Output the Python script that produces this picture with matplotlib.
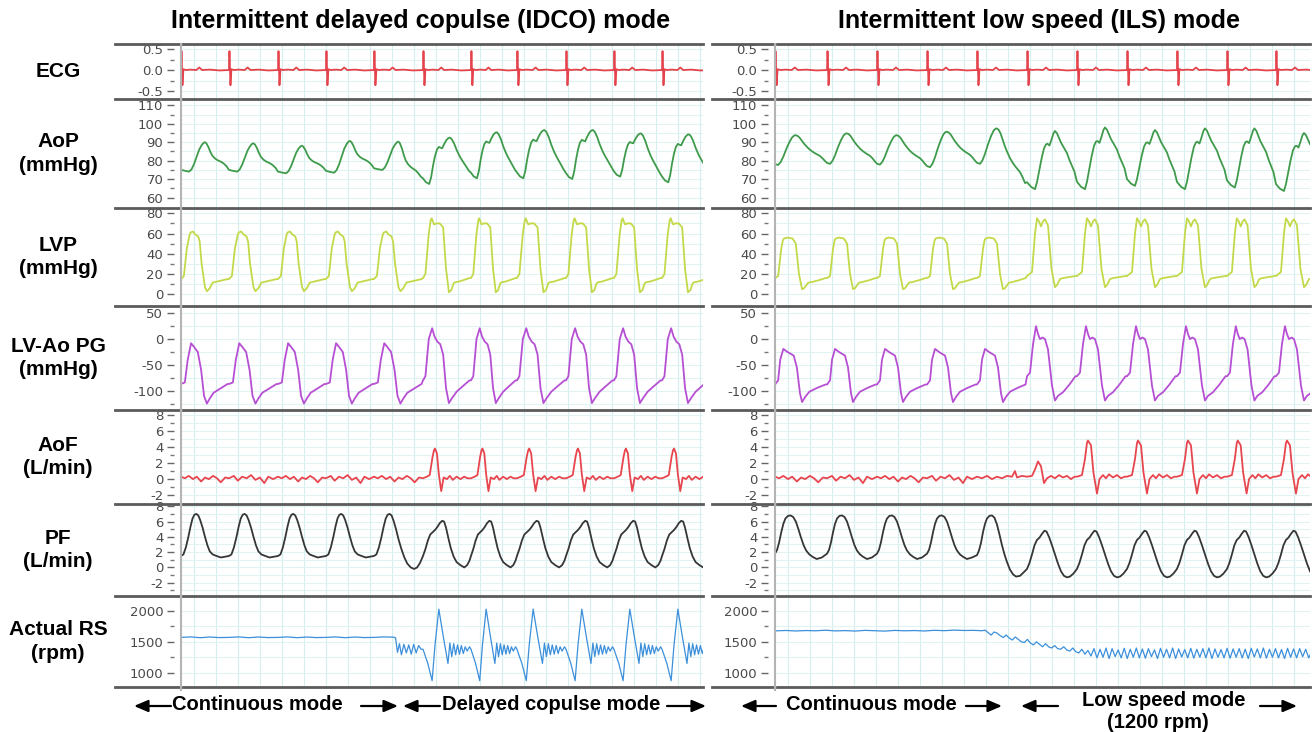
import numpy as np
import matplotlib
matplotlib.use('Agg')
import matplotlib.pyplot as plt
from matplotlib.lines import Line2D
from matplotlib.patches import FancyArrowPatch
from matplotlib.ticker import MultipleLocator, FixedLocator
from matplotlib.transforms import Bbox, TransformedBbox

W, H = 1314, 732
PX_PER_S = 110.0   # 0.2 s per grid cell

# ---- data -------------------------------------------------------------
# R-wave times (s), last entry = next beat after the end
r_left = [-0.009, 0.427, 0.873, 1.309, 1.745, 2.191, 2.627, 3.045, 3.491, 3.927, 4.364, 4.8]
r_right = [-0.009, 0.464, 0.918, 1.373, 1.827, 2.282, 2.736, 3.191, 3.645, 4.1, 4.545, 5.0]

# beat shapes: (fraction of RR interval, value)
ecg_beat = [(0.0, 0.0), (0.01, 0.45), (0.03, -0.36), (0.05, 0.02), (0.1, 0.0), (0.2, 0.01),
            (0.32, 0.0), (0.38, 0.06), (0.44, 0.0), (0.6, 0.01), (0.8, -0.01), (0.97, 0.0)]

# AoP shapes normalised 0 = trough, 1 = peak
aop_cont_l = [(0.0, 0.06), (0.1, 0.02), (0.17, 0.0), (0.22, 0.08), (0.27, 0.25), (0.33, 0.52),
              (0.38, 0.75), (0.43, 0.9), (0.47, 0.98), (0.5, 1.0), (0.53, 0.96), (0.57, 0.84),
              (0.61, 0.68), (0.65, 0.55), (0.7, 0.46), (0.75, 0.4), (0.8, 0.36), (0.85, 0.32),
              (0.9, 0.26), (0.95, 0.18)]
aop_idco = [(0.0, 0.12), (0.06, 0.04), (0.13, 0.0), (0.17, 0.15), (0.21, 0.4), (0.25, 0.6),
            (0.29, 0.74), (0.33, 0.8), (0.37, 0.78), (0.4, 0.77), (0.44, 0.86), (0.49, 0.95),
            (0.53, 0.99), (0.56, 1.0), (0.6, 0.96), (0.65, 0.85), (0.7, 0.7), (0.76, 0.55),
            (0.81, 0.45), (0.86, 0.36), (0.91, 0.27), (0.96, 0.18)]
aop_cont_r = [(0.0, 0.03), (0.06, 0.0), (0.11, 0.1), (0.16, 0.28), (0.22, 0.55), (0.28, 0.78),
              (0.33, 0.93), (0.37, 0.99), (0.39, 1.0), (0.43, 0.98), (0.47, 0.92), (0.52, 0.8),
              (0.56, 0.7), (0.61, 0.6), (0.66, 0.51), (0.71, 0.44), (0.76, 0.38), (0.81, 0.33),
              (0.86, 0.28), (0.91, 0.2), (0.96, 0.1)]
aop_ils = [(0.0, 0.12), (0.08, 0.04), (0.16, 0.0), (0.2, 0.12), (0.24, 0.3), (0.29, 0.52),
           (0.34, 0.7), (0.38, 0.77), (0.41, 0.78), (0.45, 0.75), (0.49, 0.85), (0.53, 0.96),
           (0.56, 1.0), (0.6, 0.96), (0.64, 0.88), (0.68, 0.8), (0.72, 0.74), (0.76, 0.68),
           (0.8, 0.62), (0.85, 0.5), (0.9, 0.4), (0.95, 0.3)]
aop_lo_left = [74.1, 74.1, 73.2, 73.5, 75.0, 67.4, 70.5, 70.5, 70.1, 71.4, 68.3, 70.0]
aop_hi_left = [90.0, 89.4, 88.1, 90.7, 90.3, 92.5, 95.4, 96.6, 96.6, 94.8, 94.3]
aop_lo_right = [77.7, 78.3, 77.9, 76.5, 78.3, 64.6, 64.6, 66.4, 64.6, 65.5, 63.6, 65.0]
aop_hi_right = [93.8, 94.8, 93.8, 95.7, 97.5, 96.1, 98.0, 96.6, 97.5, 97.5, 95.0]

lvp_cont_l = [(0.0, 15), (0.06, 18), (0.12, 45), (0.18, 59), (0.2, 61), (0.25, 62), (0.3, 59),
              (0.36, 57), (0.39, 52), (0.43, 30), (0.5, 7), (0.54, 3), (0.6, 6), (0.66, 11.5),
              (0.75, 12.5), (0.88, 14), (0.97, 15)]
lvp_idco = [(0.0, 16), (0.05, 20), (0.12, 60), (0.16, 73), (0.18, 75), (0.23, 69), (0.28, 70),
            (0.35, 70), (0.42, 66), (0.48, 25), (0.54, 2), (0.59, 4), (0.64, 11), (0.68, 12),
            (0.75, 12.5), (0.88, 14.5), (0.97, 16)]
lvp_cont_r = [(0.0, 16), (0.06, 18), (0.12, 45), (0.15, 53), (0.17, 55), (0.24, 56), (0.34, 55),
              (0.4, 50), (0.46, 20), (0.52, 5), (0.56, 6), (0.64, 11.5), (0.7, 12), (0.85, 14),
              (0.97, 16)]
lvp_ils = [(0.0, 18), (0.1, 22), (0.16, 60), (0.2, 75), (0.24, 72), (0.28, 67), (0.32, 72),
           (0.36, 74), (0.42, 68), (0.49, 25), (0.56, 7), (0.6, 9), (0.66, 15), (0.72, 16),
           (0.85, 17), (0.97, 18)]

pg_cont_l = [(0.0, -87), (0.08, -84), (0.14, -40), (0.21, -8), (0.27, -15), (0.35, -25), (0.42, -60),
             (0.48, -110), (0.54, -125), (0.6, -115), (0.68, -104), (0.8, -97), (0.92, -90), (0.97, -87)]
pg_idco = [(0.0, -80), (0.05, -72), (0.12, 0), (0.19, 21), (0.24, 5), (0.3, -5), (0.36, -10),
           (0.42, -30), (0.48, -95), (0.54, -124), (0.6, -115), (0.7, -102), (0.82, -92), (0.97, -80)]
pg_cont_r = [(0.0, -88), (0.06, -80), (0.1, -40), (0.16, -19), (0.24, -25), (0.36, -32), (0.42, -55),
             (0.48, -105), (0.52, -122), (0.58, -112), (0.66, -102), (0.8, -95), (0.97, -88)]
pg_ils = [(0.0, -72), (0.06, -65), (0.12, -10), (0.18, 25), (0.22, 10), (0.26, 0), (0.31, 3),
          (0.36, 0), (0.42, -20), (0.5, -90), (0.56, -119), (0.62, -110), (0.72, -103),
          (0.85, -88), (0.97, -72)]

aof_cont_a = [(0.0, 0.3), (0.08, 0.1), (0.16, 0.4), (0.25, 0.0), (0.33, 0.3), (0.42, -0.3),
              (0.5, 0.2), (0.58, 0.0), (0.67, 0.4), (0.75, 0.1), (0.83, -0.4), (0.92, 0.2)]
aof_cont_b = [(0.0, 0.1), (0.1, 0.4), (0.18, -0.2), (0.27, 0.3), (0.36, 0.1), (0.45, 0.5),
              (0.54, -0.1), (0.63, 0.2), (0.72, -0.5), (0.8, 0.3), (0.9, 0.0)]
aof_cont_bump = [(0.0, 0.3), (0.1, 0.1), (0.2, 0.4), (0.3, 0.0), (0.4, 0.3), (0.5, 0.1),
                 (0.6, 0.4), (0.7, 0.3), (0.76, 1.0), (0.8, 0.2), (0.9, 0.4)]
aof_idco = [(0.0, 0.1), (0.08, 0.3), (0.14, 0.5), (0.2, 2.8), (0.23, 3.6), (0.25, 3.8), (0.29, 3.2),
            (0.33, 0.6), (0.38, -1.5), (0.43, 0.2), (0.5, 0.0), (0.56, 0.4), (0.62, -0.1),
            (0.7, 0.3), (0.78, 0.0), (0.86, 0.3), (0.93, 0.1)]
aof_ils_first = [(0.0, 0.3), (0.1, 0.4), (0.16, 1.2), (0.22, 2.2), (0.28, 1.6), (0.34, -0.5),
                 (0.4, 0.1), (0.48, 0.4), (0.56, 0.1), (0.64, 0.5), (0.72, 0.2), (0.8, 0.4),
                 (0.88, 0.0), (0.95, 0.3)]
aof_ils = [(0.0, 0.3), (0.1, 0.5), (0.16, 2.5), (0.2, 4.5), (0.22, 4.8), (0.28, 4.2), (0.33, 0.8),
           (0.4, -1.8), (0.45, 0.0), (0.52, 0.5), (0.58, 0.1), (0.64, 0.6), (0.72, 0.2),
           (0.8, 0.5), (0.88, 0.1), (0.95, 0.3)]

pf_cont_l = [(0.0, 1.5), (0.05, 1.7), (0.1, 2.6), (0.15, 3.9), (0.2, 5.4), (0.24, 6.4), (0.28, 6.9),
             (0.32, 7.0), (0.36, 6.8), (0.4, 6.2), (0.45, 5.2), (0.5, 4.0), (0.55, 2.9), (0.6, 2.1),
             (0.66, 1.7), (0.74, 1.5), (0.83, 1.3), (0.92, 1.4)]
pf_cont_l_last = [(0.0, 1.5), (0.05, 1.7), (0.1, 2.6), (0.15, 3.9), (0.2, 5.4), (0.24, 6.4),
                  (0.28, 6.9), (0.32, 7.0), (0.36, 6.8), (0.4, 6.1), (0.45, 5.0), (0.5, 3.7),
                  (0.56, 2.4), (0.62, 1.3), (0.68, 0.5), (0.75, 0.0), (0.82, -0.2), (0.88, 0.0),
                  (0.94, 0.6)]
pf_idco = [(0.0, 1.5), (0.05, 2.4), (0.1, 3.5), (0.15, 4.3), (0.2, 4.6), (0.25, 4.9), (0.3, 5.3),
           (0.35, 5.8), (0.4, 6.1), (0.44, 6.0), (0.48, 5.2), (0.53, 3.8), (0.58, 2.5), (0.64, 1.4),
           (0.7, 0.7), (0.78, 0.3), (0.86, 0.0), (0.92, 0.3), (0.97, 0.9)]
pf_cont_r = [(0.0, 1.8), (0.04, 2.3), (0.08, 3.3), (0.12, 4.6), (0.16, 5.7), (0.2, 6.4), (0.25, 6.75),
             (0.3, 6.8), (0.35, 6.6), (0.4, 6.0), (0.45, 5.0), (0.5, 3.9), (0.55, 2.9), (0.6, 2.2),
             (0.66, 1.7), (0.72, 1.4), (0.8, 1.1), (0.9, 1.3)]
pf_cont_r_last = [(0.0, 1.6), (0.04, 2.2), (0.08, 3.2), (0.12, 4.6), (0.16, 5.7), (0.2, 6.4),
                  (0.25, 6.75), (0.3, 6.8), (0.35, 6.5), (0.4, 5.6), (0.45, 4.3), (0.5, 2.9),
                  (0.55, 1.7), (0.6, 0.7), (0.66, -0.3), (0.72, -0.9), (0.78, -1.2), (0.86, -1.1),
                  (0.94, -0.6)]
pf_ils = [(0.0, -0.2), (0.05, 0.6), (0.1, 1.7), (0.15, 2.9), (0.2, 3.6), (0.25, 3.9), (0.3, 4.4),
          (0.35, 4.8), (0.39, 4.7), (0.44, 4.0), (0.5, 2.9), (0.56, 1.7), (0.62, 0.5), (0.68, -0.5),
          (0.74, -1.1), (0.8, -1.3), (0.86, -1.2), (0.93, -0.8)]

rs_cont = [(0.0, 1572), (0.2, 1580), (0.4, 1567), (0.6, 1578), (0.8, 1569)]
rs_switch = [(0.0, 1572), (0.2, 1580), (0.4, 1576), (0.44, 1565), (0.48, 1330), (0.52, 1470),
             (0.56, 1290), (0.61, 1460), (0.66, 1320), (0.71, 1450), (0.76, 1300), (0.81, 1460),
             (0.86, 1320), (0.91, 1440), (0.96, 1380)]
rs_idco = [(0.0, 1380), (0.1, 1150), (0.19, 870), (0.25, 1450), (0.33, 2030), (0.42, 1600),
           (0.52, 1150), (0.56, 1480), (0.6, 1260), (0.64, 1470), (0.68, 1290), (0.72, 1450),
           (0.76, 1300), (0.8, 1440), (0.84, 1310), (0.88, 1420), (0.92, 1350), (0.97, 1420)]

# right chart pump speed: sampled trace (continuous part every 0.09 s, then every 0.0275 s)
rs_right_cont = [1678, 1684, 1676, 1683, 1679, 1688, 1677, 1682, 1675, 1686, 1680, 1674, 1685,
                 1679, 1683, 1676, 1687, 1681, 1690, 1684, 1686]
rs_right_tail_start = 1.873
rs_right_tail = [1680, 1690, 1650, 1610, 1660, 1640, 1600, 1570, 1610, 1560, 1530, 1580, 1540, 1500,
                 1490, 1540, 1480, 1450, 1500, 1460, 1420, 1470, 1420, 1400, 1440, 1390, 1380, 1420,
                 1370, 1350, 1400, 1340, 1320, 1380, 1300, 1360, 1270,
                 1390, 1240, 1380, 1250, 1400, 1230, 1390, 1260, 1370, 1240, 1395, 1230, 1380, 1250,
                 1400, 1240, 1385, 1235, 1390, 1260, 1370, 1230, 1395, 1250, 1380, 1240, 1400, 1230,
                 1385, 1255, 1375, 1240, 1395, 1235, 1380, 1250, 1390, 1240, 1400, 1230, 1385, 1250,
                 1375, 1240, 1395, 1235, 1385, 1250, 1390, 1240, 1380, 1230, 1395, 1255, 1385, 1240,
                 1400, 1235, 1380, 1250, 1390, 1240, 1375, 1230, 1395, 1250, 1385, 1240, 1390, 1260,
                 1380, 1240, 1350]

row_names = ['ECG', 'AoP\n(mmHg)', 'LVP\n(mmHg)', 'LV-Ao PG\n(mmHg)', 'AoF\n(L/min)',
             'PF\n(L/min)', 'Actual RS\n(rpm)']
row_ylims = [(-0.69, 0.62), (54.4, 113.4), (-11.6, 85.2), (-137.4, 64.1), (-3.1, 8.6),
             (-3.74, 8.3), (768, 2243)]
row_major = [[-0.5, 0.0, 0.5], [60, 70, 80, 90, 100, 110], [0, 20, 40, 60, 80], [-100, -50, 0, 50],
             [-2, 0, 2, 4, 6, 8], [-2, 0, 2, 4, 6, 8], [1000, 1500, 2000]]
row_ticklabels = [['-0.5', '0.0', '0.5'], ['60', '70', '80', '90', '100', '110'],
                  ['0', '20', '40', '60', '80'], ['-100', '-50', '0', '50'],
                  ['-2', '0', '2', '4', '6', '8'], ['-2', '0', '2', '4', '6', '8'],
                  ['1000', '1500', '2000']]
row_minor = [[-0.25, 0.25], [65, 75, 85, 95, 105], [10, 30, 50, 70], [-125, -75, -25, 25],
             [-1, 1, 3, 5, 7], [-3, -1, 1, 3, 5, 7], [1250, 1750]]
row_colors = ['#e4434c', '#3f9b4b', '#c3d94a', '#b64fd3', '#e8464e', '#363636', '#3b8fdb']

# ---- layout -----------------------------------------------------------
row_edges = [44, 99, 208, 306, 410, 504, 596, 687]
BOLD = ['Liberation Sans', 'DejaVu Sans']
plt.rcParams['font.family'] = ['DejaVu Sans']


def trace(r, shapes, lo=None, hi=None):
    t, v = [], []
    for i, shp in enumerate(shapes):
        p = r[i + 1] - r[i]
        fs = [f for _, f in shp]
        k = fs.index(max(fs))
        for j, (fr, f) in enumerate(shp):
            t.append(r[i] + fr * p)
            if lo is None:
                v.append(f)
            else:
                base = lo[i] if j <= k else lo[i + 1]
                v.append(base + f * (hi[i] - base))
    return t, v


left_series = [
    trace(r_left, [ecg_beat] * 11),
    trace(r_left, [aop_cont_l] * 5 + [aop_idco] * 6, aop_lo_left, aop_hi_left),
    trace(r_left, [lvp_cont_l] * 5 + [lvp_idco] * 6),
    trace(r_left, [pg_cont_l] * 5 + [pg_idco] * 6),
    trace(r_left, [aof_cont_a, aof_cont_b, aof_cont_a, aof_cont_b, aof_cont_a] + [aof_idco] * 6),
    trace(r_left, [pf_cont_l] * 4 + [pf_cont_l_last] + [pf_idco] * 6),
    trace(r_left, [rs_cont] * 4 + [rs_switch] + [rs_idco] * 6),
]

rs_r_t = list(np.arange(len(rs_right_cont)) * 0.09) + \
    list(rs_right_tail_start + np.arange(len(rs_right_tail)) * 0.0275)
right_series = [
    trace(r_right, [ecg_beat] * 11),
    trace(r_right, [aop_cont_r] * 5 + [aop_ils] * 6, aop_lo_right, aop_hi_right),
    trace(r_right, [lvp_cont_r] * 5 + [lvp_ils] * 6),
    trace(r_right, [pg_cont_r] * 5 + [pg_ils] * 6),
    trace(r_right, [aof_cont_a, aof_cont_b, aof_cont_a, aof_cont_b, aof_cont_bump,
                    aof_ils_first] + [aof_ils] * 5),
    trace(r_right, [pf_cont_r] * 4 + [pf_cont_r_last] + [pf_ils] * 6),
    (rs_r_t, rs_right_cont + rs_right_tail),
]

fig = plt.figure(figsize=(W / 100, H / 100), dpi=100)


def hline(x0, x1, y, **kw):
    fig.add_artist(Line2D([x0 / W, x1 / W], [1 - y / H, 1 - y / H],
                          transform=fig.transFigure, **kw))


def panel(x0, x1, col0, series):
    for k in range(7):
        top, bot = row_edges[k], row_edges[k + 1]
        ax = fig.add_axes([x0 / W, 1 - bot / H, (x1 - x0) / W, (bot - top) / H])
        t, v = series[k]
        lw = 0.9 if k == 6 else 1.3
        ax.plot(t, v, color=row_colors[k], lw=lw, solid_joinstyle='round', zorder=3)
        ax.set_xlim(0, (x1 - x0) / PX_PER_S)
        ax.set_ylim(*row_ylims[k])
        ax.xaxis.set_major_locator(MultipleLocator(0.2, offset=0.109))
        ax.tick_params(axis='x', length=0, labelbottom=False)
        ax.yaxis.set_major_locator(FixedLocator(row_major[k]))
        ax.set_yticklabels(row_ticklabels[k])
        ax.yaxis.set_minor_locator(FixedLocator(row_minor[k]))
        ax.tick_params(axis='y', which='major', length=5, width=1, color='#666666',
                       labelsize=9.5, labelcolor='#4a4a4a', pad=2.5)
        ax.tick_params(axis='y', which='minor', length=3, width=1, color='#777777')
        # labels that run past the row edge are cut by the separator, as in the recording
        band = TransformedBbox(Bbox.from_extents(0, 1 - bot / H, 1, 1 - top / H), fig.transFigure)
        for lab in ax.get_yticklabels():
            lab.set_clip_box(band)
            lab.set_clip_on(True)
        for s in ax.spines.values():
            s.set_visible(False)
        ax.spines['left'].set_position(('outward', 6))
        ax.grid(True, which='major', axis='x', color='#d6eeee', lw=0.8)
        ax.grid(True, which='both', axis='y', color='#e0f2f2', lw=0.8)
        ax.set_axisbelow(True)
    for y in row_edges:
        hline(col0, x0 - 2, y, color='#5b5b5b', lw=2.0)
        hline(x0 + 1, x1, y, color='#5b5b5b', lw=2.0)
    fig.add_artist(Line2D([(x0 - 1) / W] * 2, [1 - 44 / H, 1 - 690 / H],
                          transform=fig.transFigure, color='#b4b4b4', lw=1.5))


panel(182, 703, 115, left_series)
panel(776, 1310, 712, right_series)

# titles
fig.text(421 / W, 1 - 21 / H, 'Intermittent delayed copulse (IDCO) mode', ha='center', va='center',
         fontsize=18, fontweight='bold', family=BOLD)
fig.text(1039 / W, 1 - 21 / H, 'Intermittent low speed (ILS) mode', ha='center', va='center',
         fontsize=18, fontweight='bold', family=BOLD)

# row labels
for k, name in enumerate(row_names):
    yc = (row_edges[k] + row_edges[k + 1]) / 2
    fig.text(58 / W, 1 - yc / H, name, ha='center', va='center', fontsize=15,
             fontweight='bold', family=BOLD, linespacing=1.3)

# bottom annotations
notes = [('Continuous mode', 257, 705), ('Delayed copulse mode', 551, 705),
         ('Continuous mode', 871, 705), ('Low speed mode', 1164, 700), ('(1200 rpm)', 1158, 723)]
for txt, x, y in notes:
    fig.text(x / W, 1 - y / H, txt, ha='center', va='center', fontsize=14.5,
             fontweight='bold', family=BOLD)

arrows = [(171, 134), (361, 398), (440, 403), (667, 706), (776, 741), (966, 1002), (1058, 1021),
          (1260, 1297)]
for xa, xb in arrows:
    fig.add_artist(FancyArrowPatch((xa / W, 1 - 706 / H), (xb / W, 1 - 706 / H),
                                   transform=fig.transFigure,
                                   arrowstyle='-|>,head_length=0.7,head_width=0.3',
                                   mutation_scale=12, lw=1.6, color='black',
                                   shrinkA=0, shrinkB=0))

fig.savefig('out.png', dpi=100)
